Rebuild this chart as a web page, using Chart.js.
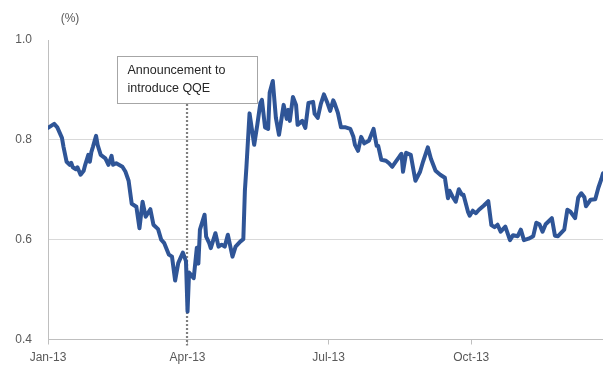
<!DOCTYPE html>
<html>
<head>
<meta charset="utf-8">
<script src="https://cdn.jsdelivr.net/npm/chart.js@4/dist/chart.umd.min.js"></script>
<style>
  html, body { margin: 0; padding: 0; background: #ffffff; }
  #wrap { width: 603px; height: 365px; position: relative; }
</style>
</head>
<body>
<div id="wrap"><canvas id="c" width="603" height="365"></canvas></div>
<script>
// ---- data (day of year 2013, value in %) ----
const days = [0,2,4,6,9,10,12,14,15,16,18,19,21,23,24,26,27,28,29,31,32,34,37,39,41,42,44,48,50,52,54,57,59,61,63,66,68,71,73,75,78,80,82,84,87,89,90,91,94,96,97,98,101,102,104,105,108,110,112,114,116,119,121,124,126,127,128,130,133,135,137,138,140,142,143,145,147,149,152,154,155,156,158,160,161,164,166,168,171,172,174,176,178,180,182,184,185,187,189,192,195,197,198,200,202,204,207,210,212,213,215,218,220,222,224,227,228,229,231,234,237,240,242,245,247,250,253,256,258,259,261,263,265,267,268,271,272,274,276,278,281,284,286,288,290,292,295,298,300,303,305,307,310,313,315,317,319,321,323,325,327,329,333,335,337,340,342,344,346,347,350,353,355,357,358];
const values = [0.824,0.828,0.832,0.825,0.804,0.786,0.756,0.750,0.754,0.745,
  0.741,0.745,0.730,0.738,0.750,0.770,0.756,0.776,0.786,0.808,
  0.790,0.770,0.763,0.750,0.768,0.750,0.753,0.746,0.736,0.718,
  0.672,0.666,0.623,0.676,0.646,0.661,0.630,0.621,0.600,0.593,
  0.570,0.566,0.518,0.553,0.574,0.557,0.456,0.534,0.523,0.584,
  0.552,0.620,0.650,0.606,0.593,0.583,0.613,0.586,0.590,0.586,
  0.610,0.566,0.586,0.596,0.601,0.698,0.746,0.853,0.790,0.830,
  0.874,0.880,0.825,0.822,0.895,0.918,0.844,0.810,0.870,0.842,
  0.860,0.838,0.886,0.870,0.830,0.838,0.824,0.874,0.876,0.852,
  0.844,0.872,0.891,0.876,0.858,0.879,0.872,0.854,0.825,0.825,
  0.822,0.806,0.790,0.778,0.806,0.793,0.798,0.822,0.788,0.788,
  0.760,0.758,0.753,0.746,0.755,0.768,0.772,0.736,0.774,0.770,
  0.718,0.736,0.757,0.785,0.762,0.738,0.730,0.724,0.683,0.698,
  0.686,0.676,0.701,0.690,0.690,0.655,0.648,0.658,0.653,0.660,
  0.668,0.677,0.629,0.625,0.630,0.616,0.626,0.599,0.609,0.607,
  0.620,0.599,0.602,0.607,0.634,0.631,0.616,0.631,0.637,0.643,
  0.608,0.607,0.620,0.660,0.656,0.643,0.684,0.693,0.685,0.667,
  0.680,0.681,0.704,0.722,0.733];
const xTickDays = [0, 90, 181, 273];
const xTickLabels = ["Jan-13", "Apr-13", "Jul-13", "Oct-13"];
const yTickValues = [0.4, 0.6, 0.8, 1.0];
const yTickLabels = ["0.4", "0.6", "0.8", "1.0"];
const xMin = 0, xMax = 358;
const unitLabel = "(%)";
const annotationDay = 90;
const annotationLines = ["Announcement to", "introduce QQE"];

// ---- chart ----
const FONT = "'Liberation Sans', Arial, sans-serif";
const TEXT = "#595959";

const annotationPlugin = {
  id: 'qqeNote',
  beforeDatasetsDraw(chart) {
    const ctx = chart.ctx;
    const x = chart.scales.x.getPixelForValue(annotationDay) - 0.5;
    ctx.save();
    ctx.strokeStyle = '#7f7f7f';
    ctx.lineWidth = 2.2;
    ctx.setLineDash([2, 2]);
    ctx.beginPath();
    ctx.moveTo(x, 104);
    ctx.lineTo(x, chart.chartArea.bottom + 6);
    ctx.stroke();
    ctx.restore();
  },
  afterDraw(chart) {
    const ctx = chart.ctx;
    const x = chart.scales.x.getPixelForValue(annotationDay);
    ctx.save();
    const bx = Math.round(x - 71) + 0.5, by = 56.5, bw = 140, bh = 47;
    ctx.fillStyle = '#ffffff';
    ctx.fillRect(bx, by, bw, bh);
    ctx.strokeStyle = '#a6a6a6';
    ctx.lineWidth = 1;
    ctx.strokeRect(bx, by, bw, bh);
    ctx.fillStyle = '#262626';
    ctx.font = "12.5px " + FONT;
    ctx.textAlign = 'left';
    ctx.textBaseline = 'middle';
    ctx.fillText(annotationLines[0], bx + 10, 71);
    ctx.fillText(annotationLines[1], bx + 10, 89);
    ctx.fillStyle = TEXT;
    ctx.font = "12px " + FONT;
    ctx.textAlign = 'center';
    ctx.fillText(unitLabel, 70, 19);
    ctx.restore();
  }
};

new Chart(document.getElementById('c'), {
  type: 'line',
  data: {
    datasets: [{
      data: days.map((d, i) => ({ x: d, y: values[i] })),
      borderColor: '#2f5597',
      borderWidth: 4,
      pointRadius: 0,
      tension: 0,
      fill: false,
      borderJoinStyle: 'round',
      borderCapStyle: 'round'
    }]
  },
  options: {
    responsive: false,
    animation: false,
    devicePixelRatio: 1,
    layout: { padding: { top: 40, left: 0, right: 0, bottom: 0 } },
    plugins: { legend: { display: false }, tooltip: { enabled: false } },
    scales: {
      x: {
        type: 'linear',
        min: xMin,
        max: xMax,
        afterBuildTicks: (s) => { s.ticks = xTickDays.map(v => ({ value: v })); },
        afterFit: (s) => { s.height = 25.5; },
        ticks: {
          autoSkip: false,
          maxRotation: 0,
          padding: 6,
          color: TEXT,
          font: { family: FONT, size: 12 },
          callback: (v, i) => xTickLabels[i]
        },
        grid: {
          drawOnChartArea: false,
          drawTicks: true,
          tickLength: 5,
          color: '#bfbfbf'
        },
        border: { display: true, color: '#bfbfbf', width: 1 }
      },
      y: {
        min: 0.4,
        max: 1.0,
        afterBuildTicks: (s) => { s.ticks = yTickValues.map(v => ({ value: v })); },
        afterFit: (s) => { s.width = 48; },
        ticks: {
          padding: 16,
          color: TEXT,
          font: { family: FONT, size: 12 },
          callback: (v, i) => yTickLabels[i]
        },
        grid: {
          drawTicks: false,
          color: (c) => (c.tick && (c.tick.value === 0.6 || c.tick.value === 0.8)) ? '#d9d9d9' : 'rgba(0,0,0,0)'
        },
        border: { display: true, color: '#bfbfbf', width: 1 }
      }
    }
  },
  plugins: [annotationPlugin]
});
</script>
</body>
</html>
